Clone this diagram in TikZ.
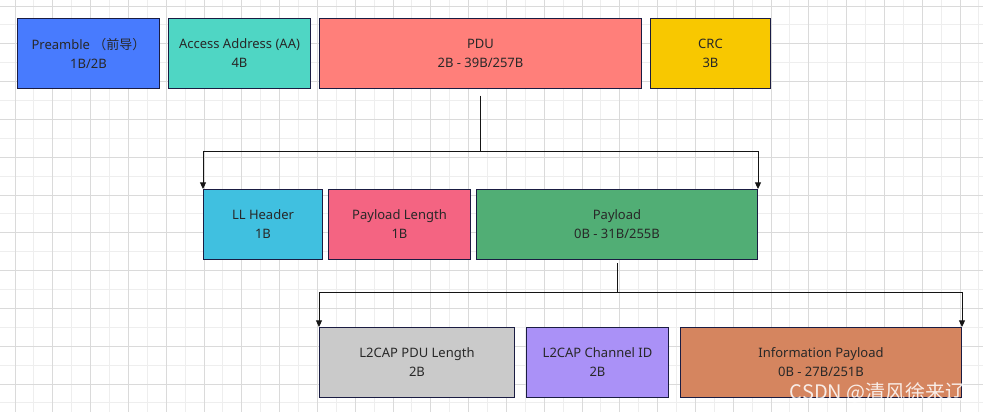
\documentclass[tikz,border=0pt]{standalone}
\usepackage{fontspec}
\setmainfont{Noto Sans}
\newfontfamily\cjk{Noto Sans CJK SC}
\usetikzlibrary{arrows.meta, positioning}
\definecolor{gridmajor}{RGB}{218,218,218}
\definecolor{gridminor}{RGB}{238,238,238}
\definecolor{boxedge}{RGB}{26,28,66}
\definecolor{txtgray}{RGB}{40,40,40}
\definecolor{linkgray}{RGB}{20,20,20}
\definecolor{cpre}{RGB}{72,123,254}
\definecolor{caa}{RGB}{79,214,196}
\definecolor{cpdu}{RGB}{255,127,122}
\definecolor{ccrc}{RGB}{248,200,0}
\definecolor{cllh}{RGB}{64,192,224}
\definecolor{cplen}{RGB}{244,100,130}
\definecolor{cpay}{RGB}{81,174,117}
\definecolor{cl2len}{RGB}{202,202,202}
\definecolor{cl2cid}{RGB}{170,145,247}
\definecolor{cinfo}{RGB}{213,133,95}
\tikzset{
  field/.style={rectangle, draw=boxedge, line width=0.75pt, minimum height=52.5pt, inner sep=0pt, align=center, text=txtgray, font=\fontsize{9.75}{14.25}\selectfont},
  link/.style={line width=0.75pt, draw=linkgray},
  linkarrow/.style={link, -{Triangle[width=4.5pt,length=5pt]}},
  minorgrid/.style={line width=0.75pt, color=gridminor},
  majorgrid/.style={line width=0.75pt, color=gridmajor}
}
\begin{document}
\begin{tikzpicture}[x=0.75pt, y=-0.75pt]
  \useasboundingbox (0,0) rectangle (983,412);
  \fill[white] (0,0) rectangle (983,412);

  % background grid
  \foreach \i in {-1,...,51}
    \draw[minorgrid] ({15+18.9*\i},0) -- ++(0,412);
  \foreach \j in {0,...,21}
    \draw[minorgrid] (0,{6+18.9*\j}) -- ++(983,0);
  \foreach \i in {0,...,25}
    \draw[majorgrid] ({15+37.8*\i},0) -- ++(0,412);
  \foreach \j in {0,...,10}
    \draw[majorgrid] (0,{6+37.8*\j}) -- ++(983,0);

  % packet fields
  \node[field, fill=cpre, minimum width=106.5pt, anchor=north west] (pre) at (17,18) {Preamble {\cjk （前导）}\\1B/2B};
  \node[field, fill=caa, minimum width=106.5pt, right=6pt of pre] (aa) {Access Address (AA)\\4B};
  \node[field, fill=cpdu, minimum width=241.5pt, right=6pt of aa] (pdu) {PDU\\2B - 39B/257B};
  \node[field, fill=ccrc, minimum width=90pt, right=6pt of pdu] (crc) {CRC\\3B};

  % PDU fields
  \node[field, fill=cllh, minimum width=89.25pt, anchor=north west] (llh) at (203,189) {LL Header\\1B};
  \node[field, fill=cplen, minimum width=106.5pt, right=3.75pt of llh] (plen) {Payload Length\\1B};
  \node[field, fill=cpay, minimum width=210.75pt, right=3.75pt of plen] (pay) {Payload\\0B - 31B/255B};

  % payload fields
  \node[field, fill=cl2len, minimum width=146.25pt, anchor=north west] (l2len) at (319,327) {L2CAP PDU Length\\2B};
  \node[field, fill=cl2cid, minimum width=106.5pt, right=8.25pt of l2len] (l2cid) {L2CAP Channel ID\\2B};
  \node[field, fill=cinfo, minimum width=210.75pt, right=8.25pt of l2cid] (info) {Information Payload\\0B - 27B/251B};

  % connectors
  \draw[link, shorten <=5pt] (pdu.south) -- ++(0,62) coordinate (pdusplit);
  \draw[linkarrow] (pdusplit) -| (llh.north west);
  \draw[linkarrow] (pdusplit) -| (pay.north east);
  \draw[link, shorten <=2.25pt] (pay.south) -- ++(0,32) coordinate (paysplit);
  \draw[linkarrow] (paysplit) -| (l2len.north west);
  \draw[linkarrow] (paysplit) -| (info.north east);

  \node[text=white, opacity=0.85, font=\cjk\fontsize{15}{15}\selectfont, anchor=east, inner sep=0pt] (wm) at (966,393) {CSDN @清风徐来辽};
\end{tikzpicture}
\end{document}
